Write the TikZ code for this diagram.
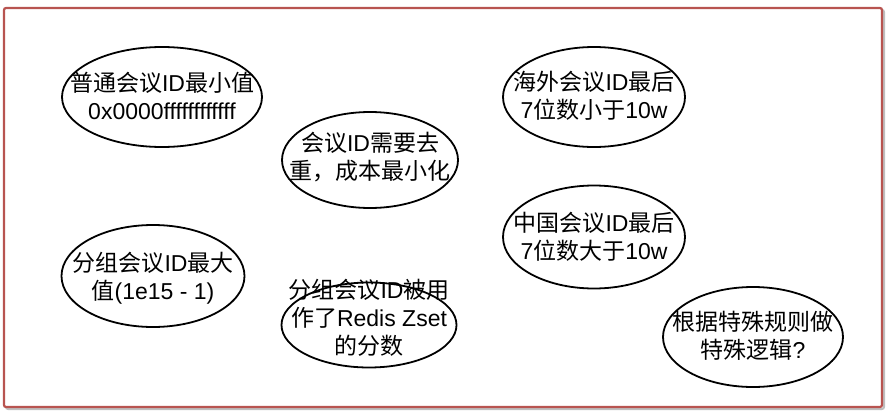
\documentclass[tikz,border=0pt]{standalone}
\usepackage{fontspec}
\setmainfont{Liberation Sans}
\newfontfamily\cjk{Noto Sans CJK SC}
\usetikzlibrary{shapes.geometric}
\definecolor{framered}{HTML}{B85450}
\begin{document}
\begin{tikzpicture}[x=1pt,y=-1pt,
  bubble/.style={draw=black, line width=1.8pt, ellipse, inner sep=0pt},
  txt/.style={align=center, font=\fontsize{23}{28}\selectfont, inner sep=0pt},
]
\useasboundingbox (0,0) rectangle (890,412);
% frame with shadow
\draw[black, opacity=0.25, line width=2pt, rounded corners=2pt] (6,10) rectangle (884,409);
\draw[framered, fill=white, line width=2.2pt, rounded corners=2pt] (4,8) rectangle (882,407);

\node[bubble, minimum width=200pt, minimum height=100pt] (e1) at (162,97) {};
\node[txt] (t1) at (162,96) {{\cjk 普通会议}ID{\cjk 最小值}\\0x0000ffffffffffff};

\node[bubble, minimum width=176pt, minimum height=96pt] (e2) at (370,160) {};
\node[txt] (t2) at (370,157) {{\cjk 会议}ID{\cjk 需要去}\\{\cjk 重，成本最小化}};

\node[bubble, minimum width=182pt, minimum height=100pt] (e3) at (594,97) {};
\node[txt] (t3) at (594,96) {{\cjk 海外会议}ID{\cjk 最后}\\7{\cjk 位数小于}10w};

\node[bubble, minimum width=182pt, minimum height=103pt] (e4) at (594,237) {};
\node[txt] (t4) at (594,237) {{\cjk 中国会议}ID{\cjk 最后}\\7{\cjk 位数大于}10w};

\node[bubble, minimum width=183pt, minimum height=102pt] (e5) at (153,276) {};
\node[txt] (t5) at (153,278) {{\cjk 分组会议}ID{\cjk 最大}\\{\cjk 值}(1e15 - 1)};

\node[bubble, minimum width=175pt, minimum height=85pt] (e6) at (369,325) {};
\node[txt] (t6) at (369,318) {{\cjk 分组会议}ID{\cjk 被用}\\{\cjk 作了}Redis Zset\\{\cjk 的分数}};

\node[bubble, minimum width=180pt, minimum height=100pt] (e7) at (753,337) {};
\node[txt] (t7) at (753,336) {{\cjk 根据特殊规则做}\\{\cjk 特殊逻辑}?};
\end{tikzpicture}
\end{document}
